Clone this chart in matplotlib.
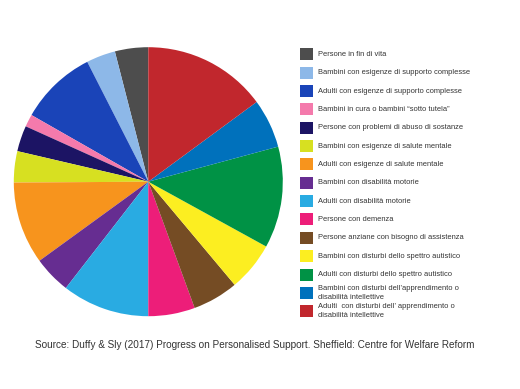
import matplotlib
matplotlib.use("Agg")
import matplotlib.pyplot as plt
from matplotlib.patches import Rectangle

# legend order (top to bottom); pie drawn counterclockwise from 12 o'clock in this order
labels = [
    "Persone in fin di vita",
    "Bambini con esigenze di supporto complesse",
    "Adulti con esigenze di supporto complesse",
    "Bambini in cura o bambini \u201csotto tutela\u201d",
    "Persone con problemi di abuso di sostanze",
    "Bambini con esigenze di salute mentale",
    "Adulti con esigenze di salute mentale",
    "Bambini con disabilit\u00e0 motorie",
    "Adulti con disabilit\u00e0 motorie",
    "Persone con demenza",
    "Persone anziane con bisogno di assistenza",
    "Bambini con disturbi dello spettro autistico",
    "Adulti con disturbi dello spettro autistico",
    "Bambini con disturbi dell\u2019apprendimento o\ndisabilit\u00e0 intellettive",
    "Adulti  con disturbi dell\u2019 apprendimento o\ndisabilit\u00e0 intellettive",
]
values = [4.0, 3.5, 9.25, 1.5, 3.1, 3.75, 9.9, 4.5, 10.5, 5.6, 5.5, 5.9, 12.2, 5.9, 14.9]
colors = ["#4d4d4d", "#8db8e8", "#1a44b8", "#f47aac", "#1c1464", "#d7e021",
          "#f7941d", "#662d91", "#29abe2", "#ed1e79", "#754c24", "#fcee21",
          "#009245", "#0071bc", "#c1272d"]

plt.rcParams['font.family'] = ['Liberation Sans', 'DejaVu Sans']

W, H = 520, 389
fig = plt.figure(figsize=(W / 100, H / 100), dpi=100)

# pie
cx, cy, r = 148.3, 181.7, 134.5
ax = fig.add_axes([(cx - r) / W, 1 - (cy + r) / H, 2 * r / W, 2 * r / H])
ax.pie(values, colors=colors, startangle=90, counterclock=True, radius=1,
       wedgeprops=dict(linewidth=0))
ax.set_xlim(-1, 1)
ax.set_ylim(-1, 1)
ax.axis("off")

# legend drawn by hand in pixel coords
lg = fig.add_axes([0, 0, 1, 1])
lg.set_xlim(0, W)
lg.set_ylim(H, 0)
lg.axis("off")
y0, step = 54.3, 18.35
for i, (lab, col) in enumerate(zip(labels, colors)):
    y = y0 + i * step
    lg.add_patch(Rectangle((299.5, y - 6), 13.5, 12, facecolor=col, edgecolor="none"))
    lg.text(318, y, lab, fontsize=5.45, color="#333333", va="center", ha="left",
            linespacing=1.5)

lg.text(35, 345, "Source: Duffy & Sly (2017) Progress on Personalised Support. "
        "Sheffield: Centre for Welfare Reform",
        fontsize=7.2, color="#333333", va="center", ha="left")

fig.savefig("out.png", dpi=100)
